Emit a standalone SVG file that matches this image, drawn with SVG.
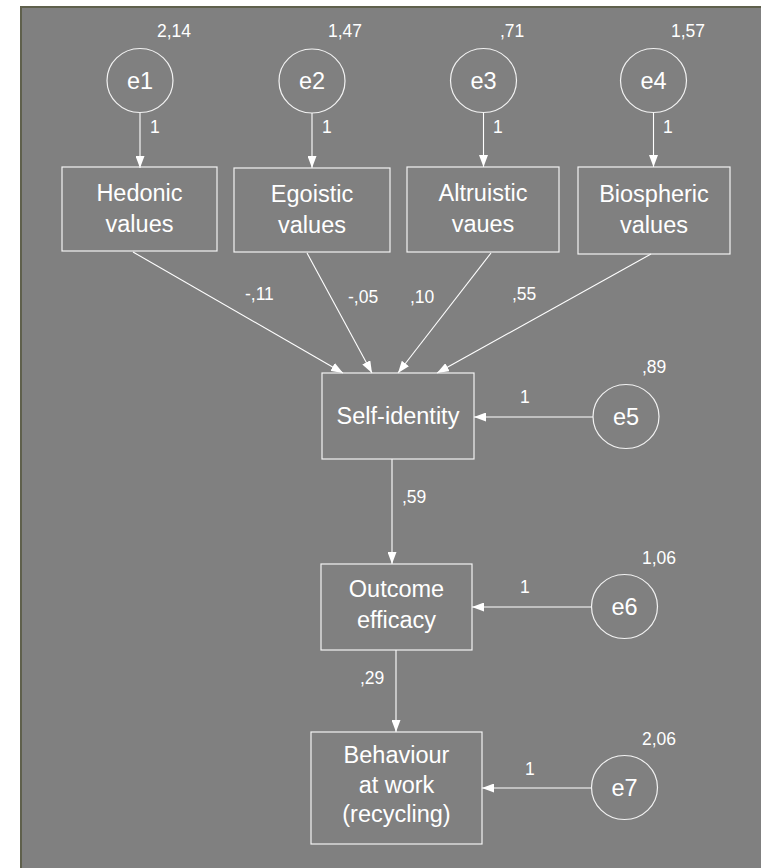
<svg xmlns="http://www.w3.org/2000/svg" width="761" height="868" viewBox="0 0 761 868">
<style>
.box{fill:none;stroke:#f2f2f2;stroke-width:1.2}
.circ{fill:none;stroke:#f2f2f2;stroke-width:1.2}
.big{font-family:"Liberation Sans",Arial,sans-serif;font-size:23.5px;fill:#ffffff;text-anchor:middle}
.sm{font-family:"Liberation Sans",Arial,sans-serif;font-size:17.5px;fill:#ffffff}
.ln{stroke:#ffffff;stroke-width:1.1;fill:none;marker-end:url(#ah)}
</style>
<defs>
<marker id="ah" viewBox="0 0 12 9" refX="12" refY="4.5" markerWidth="12" markerHeight="9" markerUnits="userSpaceOnUse" orient="auto">
<path d="M0,0 L12,4.5 L0,9 Z" fill="#ffffff"/>
</marker>
</defs>
<rect x="0" y="0" width="761" height="868" fill="#ffffff"/>
<rect x="20" y="6" width="741" height="862" fill="#808080"/>
<line x1="21" y1="6" x2="21" y2="868" stroke="#5f604c" stroke-width="2"/>
<line x1="20" y1="7" x2="761" y2="7" stroke="#5f604c" stroke-width="2"/>

<g id="connectors">
<line class="ln" x1="140" y1="113" x2="140" y2="168"/>
<line class="ln" x1="312" y1="113" x2="312" y2="168"/>
<line class="ln" x1="483.5" y1="113" x2="483.5" y2="167"/>
<line class="ln" x1="653.5" y1="113" x2="653.5" y2="167"/>
<line class="ln" x1="133" y1="252" x2="343" y2="373"/>
<line class="ln" x1="307" y1="253" x2="372" y2="373"/>
<line class="ln" x1="491" y1="253" x2="398" y2="373"/>
<line class="ln" x1="651" y1="254" x2="437" y2="373"/>
<line class="ln" x1="593" y1="417" x2="474" y2="417"/>
<line class="ln" x1="392" y1="459" x2="392" y2="564"/>
<line class="ln" x1="592" y1="607" x2="472" y2="607"/>
<line class="ln" x1="396" y1="650" x2="396" y2="732"/>
<line class="ln" x1="592" y1="788" x2="482" y2="788"/>
<text class="sm" x="150" y="133">1</text>
<text class="sm" x="322" y="133">1</text>
<text class="sm" x="493" y="133">1</text>
<text class="sm" x="663" y="133">1</text>
<text class="sm" x="245" y="300">-,11</text>
<text class="sm" x="348" y="303">-,05</text>
<text class="sm" x="410" y="303">,10</text>
<text class="sm" x="512" y="300">,55</text>
<text class="sm" x="520" y="403">1</text>
<text class="sm" x="402" y="503">,59</text>
<text class="sm" x="520" y="593">1</text>
<text class="sm" x="360" y="684">,29</text>
<text class="sm" x="525" y="775">1</text>
</g>

<g id="e1"><ellipse class="circ" cx="140" cy="80.5" rx="33" ry="32"/><text class="big" x="140" y="89">e1</text><text class="sm" x="157" y="37">2,14</text></g>
<g id="e2"><ellipse class="circ" cx="312" cy="81" rx="33" ry="32"/><text class="big" x="312" y="89">e2</text><text class="sm" x="328" y="37">1,47</text></g>
<g id="e3"><ellipse class="circ" cx="483.5" cy="80.5" rx="33" ry="32"/><text class="big" x="483.5" y="89">e3</text><text class="sm" x="500" y="37">,71</text></g>
<g id="e4"><ellipse class="circ" cx="653.5" cy="80.5" rx="33" ry="32"/><text class="big" x="653.5" y="89">e4</text><text class="sm" x="671" y="37">1,57</text></g>

<g id="hedonic"><rect class="box" x="62" y="167" width="155" height="84"/><text class="big" x="139.5" y="201">Hedonic</text><text class="big" x="139.5" y="232">values</text></g>
<g id="egoistic"><rect class="box" x="234" y="168" width="156" height="84"/><text class="big" x="312" y="202">Egoistic</text><text class="big" x="312" y="233">values</text></g>
<g id="altruistic"><rect class="box" x="407" y="167" width="152" height="85"/><text class="big" x="483" y="201">Altruistic</text><text class="big" x="483" y="232">vaues</text></g>
<g id="biospheric"><rect class="box" x="578" y="167" width="152" height="87"/><text class="big" x="654" y="202">Biospheric</text><text class="big" x="654" y="233">values</text></g>

<g id="selfidentity"><rect class="box" x="322" y="373" width="152" height="86"/><text class="big" x="398" y="424">Self-identity</text></g>
<g id="e5"><ellipse class="circ" cx="626" cy="416.5" rx="33" ry="32"/><text class="big" x="626" y="425">e5</text><text class="sm" x="642" y="373">,89</text></g>

<g id="outcome"><rect class="box" x="321" y="564" width="151" height="86"/><text class="big" x="396.5" y="597">Outcome</text><text class="big" x="396.5" y="628">efficacy</text></g>
<g id="e6"><ellipse class="circ" cx="624.5" cy="606.5" rx="33" ry="32"/><text class="big" x="624.5" y="615">e6</text><text class="sm" x="642" y="564">1,06</text></g>

<g id="behaviour"><rect class="box" x="311" y="732" width="171" height="112"/><text class="big" x="396.5" y="763">Behaviour</text><text class="big" x="396.5" y="793">at work</text><text class="big" x="396.5" y="822">(recycling)</text></g>
<g id="e7"><ellipse class="circ" cx="624.5" cy="787.5" rx="33" ry="32"/><text class="big" x="624.5" y="796">e7</text><text class="sm" x="642" y="745">2,06</text></g>
</svg>
